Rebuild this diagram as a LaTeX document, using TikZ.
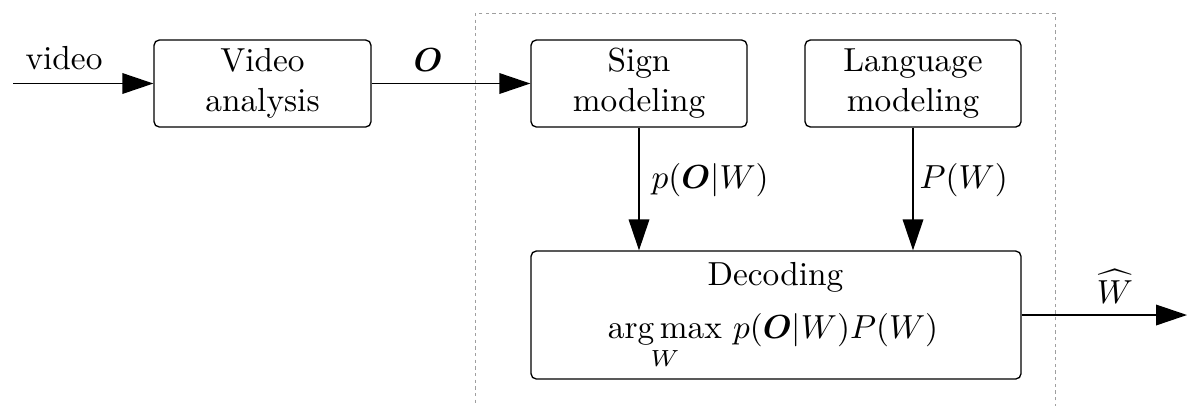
\documentclass[tikz,border=0pt]{standalone}
\usepackage{amsmath}
\usepackage{bm}
\usepackage{fontspec}
\usetikzlibrary{arrows.meta}
\tikzset{
  txt/.style={inner sep=0pt},
  blk/.style={draw, rounded corners=1.6pt, line width=0.4pt, align=center, inner sep=0pt},
  conn/.style={line width=0.4pt, -{Triangle[length=9.3pt,width=6.2pt]}},
  frame/.style={draw=gray!75, line width=0.3pt, dash pattern=on 1pt off 1pt}
}
\begin{document}
\begin{tikzpicture}[x=0.3pt,y=-0.3pt]
\clip (0,0) rectangle (1187,405);
\useasboundingbox (0,0) rectangle (1187,405);
% dashed frame
\draw[frame] (475,13) rectangle (1055,430);
% blocks
\node[blk, minimum width=65.1pt, minimum height=26.1pt] (va) at (262.5,83.5) {Video\\analysis};
\node[blk, minimum width=64.8pt, minimum height=26.1pt] (sm) at (639,83.5) {Sign\\modeling};
\node[blk, minimum width=64.8pt, minimum height=26.1pt] (lm) at (913,83.5) {Language\\modeling};
\node[blk, minimum width=147pt, minimum height=38.4pt] (dec) at (776,315) {};
\node[txt, anchor=base] (dectitle) at (775.5,285) {Decoding};
\node[txt, anchor=base] (decform) at (773,338) {$\displaystyle\operatorname*{arg\,max}_{W}\, p(\bm{O}|W)P(W)$};
% connectors
\coordinate (in) at (13,83.5);
\coordinate (out) at (1187,315);
\draw[conn] (in) -- (va.west);
\draw[conn] (va.east) -- (sm.west);
\draw[conn] (sm.south) -- (sm.south |- dec.north);
\draw[conn] (lm.south) -- (lm.south |- dec.north);
\draw[conn] (dec.east) -- (out);
% labels
\node[txt, anchor=base] (lvideo) at (64,69) {video};
\node[txt, anchor=base] (lO) at (428,71) {$\bm{O}$};
\node[txt, anchor=base west] (lpo) at (651,188) {$p(\bm{O}|W)$};
\node[txt, anchor=base west] (lpw) at (919,188) {$P(W)$};
\node[txt, anchor=base] (lw) at (1115,303) {$\widehat{W}$};
\end{tikzpicture}
\end{document}
